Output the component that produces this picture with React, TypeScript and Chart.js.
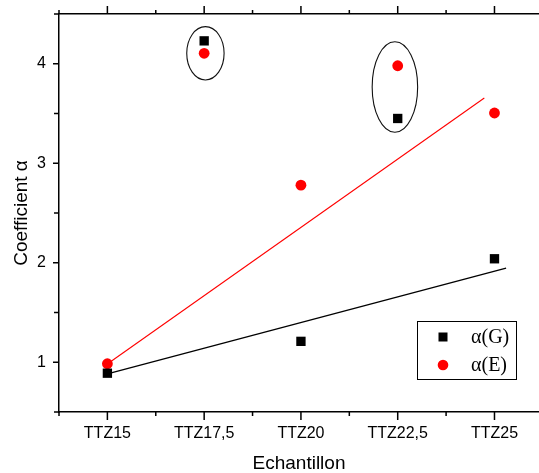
import React, { useEffect, useRef } from 'react';
import { Chart, registerables } from 'chart.js';

Chart.register(...registerables);

const categories = ['TTZ15', 'TTZ17,5', 'TTZ20', 'TTZ22,5', 'TTZ25'];
const alphaG = [0.89, 4.23, 1.21, 3.45, 2.04];
const alphaE = [0.985, 4.105, 2.78, 3.98, 3.505];
const fitGx = [1, 5.12];
const fitGy = [0.884, 1.947];
const fitEx = [1.01, 4.895];
const fitEy = [0.99, 3.656];
const yTicks = [1, 2, 3, 4];
const ellipseCx = [2.013, 3.971];
const ellipseCy = [4.105, 3.766];
const ellipseRx = [0.193, 0.235];
const ellipseRy = [0.268, 0.455];

const SANS = "'Liberation Sans', Arial, sans-serif";
const SERIF = "'Liberation Serif', 'Times New Roman', serif";

const axisTicks = {
  id: 'axisTicks',
  afterDraw(chart: any) {
    const { ctx, chartArea, scales } = chart;
    const { left, top, bottom } = chartArea;
    const x = scales.x;
    const y = scales.y;
    ctx.save();
    ctx.strokeStyle = '#000';
    ctx.lineWidth = 1.5;
    for (let v = 0.5; v <= x.max + 1e-9; v += 0.5) {
      const px = x.getPixelForValue(v);
      const major = Math.abs(v - Math.round(v)) < 1e-9;
      const len = major ? 8 : 4;
      ctx.beginPath();
      ctx.moveTo(px, bottom);
      ctx.lineTo(px, bottom + len);
      ctx.moveTo(px, top);
      ctx.lineTo(px, top - len);
      ctx.stroke();
    }
    for (let v = 0.5; v <= y.max + 1e-9; v += 0.5) {
      const py = y.getPixelForValue(v);
      const major = Math.abs(v - Math.round(v)) < 1e-9;
      const len = major ? 6 : 5;
      ctx.beginPath();
      ctx.moveTo(left, py);
      ctx.lineTo(left - len, py);
      ctx.stroke();
    }
    ctx.restore();
  },
};

const ellipses = {
  id: 'ellipses',
  afterDatasetsDraw(chart: any) {
    const { ctx, scales } = chart;
    const x = scales.x;
    const y = scales.y;
    ctx.save();
    ctx.strokeStyle = '#111';
    ctx.lineWidth = 1.1;
    for (let i = 0; i < ellipseCx.length; i++) {
      const cx = x.getPixelForValue(ellipseCx[i]);
      const cy = y.getPixelForValue(ellipseCy[i]);
      const rx = Math.abs(x.getPixelForValue(ellipseCx[i] + ellipseRx[i]) - cx);
      const ry = Math.abs(y.getPixelForValue(ellipseCy[i] + ellipseRy[i]) - cy);
      ctx.beginPath();
      ctx.ellipse(cx, cy, rx, ry, 0, 0, Math.PI * 2);
      ctx.stroke();
    }
    ctx.restore();
  },
};

const innerLegend = {
  id: 'innerLegend',
  afterDraw(chart: any) {
    const { ctx } = chart;
    const ds = chart.data.datasets;
    ctx.save();
    ctx.strokeStyle = '#000';
    ctx.lineWidth = 1;
    ctx.strokeRect(417.5, 321.5, 99, 58);
    const items = [ds[0], ds[1]];
    items.forEach((d: any, i: number) => {
      const cy = 337 + i * 28;
      ctx.fillStyle = d.backgroundColor;
      if (d.pointStyle === 'rect') {
        ctx.fillRect(443 - 4.5, cy - 4.5, 9, 9);
      } else {
        ctx.beginPath();
        ctx.arc(443, cy, 5.3, 0, Math.PI * 2);
        ctx.fill();
      }
      ctx.fillStyle = '#000';
      ctx.font = `20px ${SERIF}`;
      ctx.textBaseline = 'middle';
      ctx.textAlign = 'left';
      ctx.fillText(d.label, 471, cy + 1);
    });
    ctx.restore();
  },
};

export default function App() {
  const ref = useRef<HTMLCanvasElement | null>(null);
  useEffect(() => {
    if (!ref.current) return;
    const chart = new Chart(ref.current, {
      type: 'scatter',
      data: {
        datasets: [
          {
            label: 'α(G)',
            data: categories.map((_, i) => ({ x: i + 1, y: alphaG[i] })),
            backgroundColor: '#000',
            borderColor: '#000',
            pointStyle: 'rect',
            pointRadius: 6.6,
            borderWidth: 0,
          },
          {
            label: 'α(E)',
            data: categories.map((_, i) => ({ x: i + 1, y: alphaE[i] })),
            backgroundColor: '#ff0000',
            borderColor: '#ff0000',
            pointStyle: 'circle',
            pointRadius: 5.4,
            borderWidth: 0,
          },
          {
            label: 'fitG',
            data: fitGx.map((v, i) => ({ x: v, y: fitGy[i] })),
            showLine: true,
            borderColor: '#000',
            borderWidth: 1.3,
            pointRadius: 0,
          },
          {
            label: 'fitE',
            data: fitEx.map((v, i) => ({ x: v, y: fitEy[i] })),
            showLine: true,
            borderColor: '#ff0000',
            borderWidth: 1.1,
            pointRadius: 0,
          },
        ] as any,
      },
      options: {
        animation: false,
        responsive: false,
        layout: { padding: 0, autoPadding: false },
        plugins: {
          legend: { display: false },
          tooltip: { enabled: false },
        },
        scales: {
          x: {
            type: 'linear',
            position: 'bottom',
            min: 0.5,
            max: 5.46,
            grid: { display: false, drawTicks: false },
            border: { display: true, color: '#000', width: 1.5 },
            afterBuildTicks: (s: any) => {
              s.ticks = categories.map((_, i) => ({ value: i + 1 }));
            },
            afterFit: (s: any) => {
              s.height = 61;
              s.paddingLeft = 0;
              s.paddingRight = 0;
            },
            ticks: {
              autoSkip: false,
              maxRotation: 0,
              padding: 12,
              color: '#000',
              font: { family: SANS, size: 16 },
              callback: (v: any) => categories[Math.round(Number(v)) - 1] ?? '',
            },
            title: {
              display: true,
              text: 'Echantillon',
              color: '#000',
              font: { family: SANS, size: 19, lineHeight: 1 },
              padding: { top: 0, bottom: 0 },
            },
          },
          x2: {
            type: 'linear',
            position: 'top',
            min: 0.5,
            max: 5.46,
            grid: { display: false, drawTicks: false },
            border: { display: true, color: '#000', width: 1.5 },
            ticks: { display: false },
            afterFit: (s: any) => {
              s.height = 14;
              s.paddingLeft = 0;
              s.paddingRight = 0;
            },
          },
          y: {
            type: 'linear',
            position: 'left',
            min: 0.5,
            max: 4.5,
            grid: { display: false, drawTicks: false },
            border: { display: true, color: '#000', width: 1.5 },
            afterBuildTicks: (s: any) => {
              s.ticks = yTicks.map((v) => ({ value: v }));
            },
            afterFit: (s: any) => {
              s.width = 59;
              s.paddingTop = 0;
              s.paddingBottom = 0;
            },
            ticks: {
              padding: 13,
              color: '#000',
              font: { family: SANS, size: 16 },
            },
            title: {
              display: true,
              text: 'Coefficient α',
              color: '#000',
              font: { family: SANS, size: 19, lineHeight: 1 },
              padding: { top: 12, bottom: 0 },
            },
          },
        },
      } as any,
      plugins: [axisTicks, ellipses, innerLegend],
    });
    return () => chart.destroy();
  }, []);
  return (
    <div style={{ position: 'absolute', left: 0, top: 0, width: 539, height: 473, background: '#fff' }}>
      <canvas ref={ref} width={539} height={473} style={{ display: 'block' }} />
    </div>
  );
}
